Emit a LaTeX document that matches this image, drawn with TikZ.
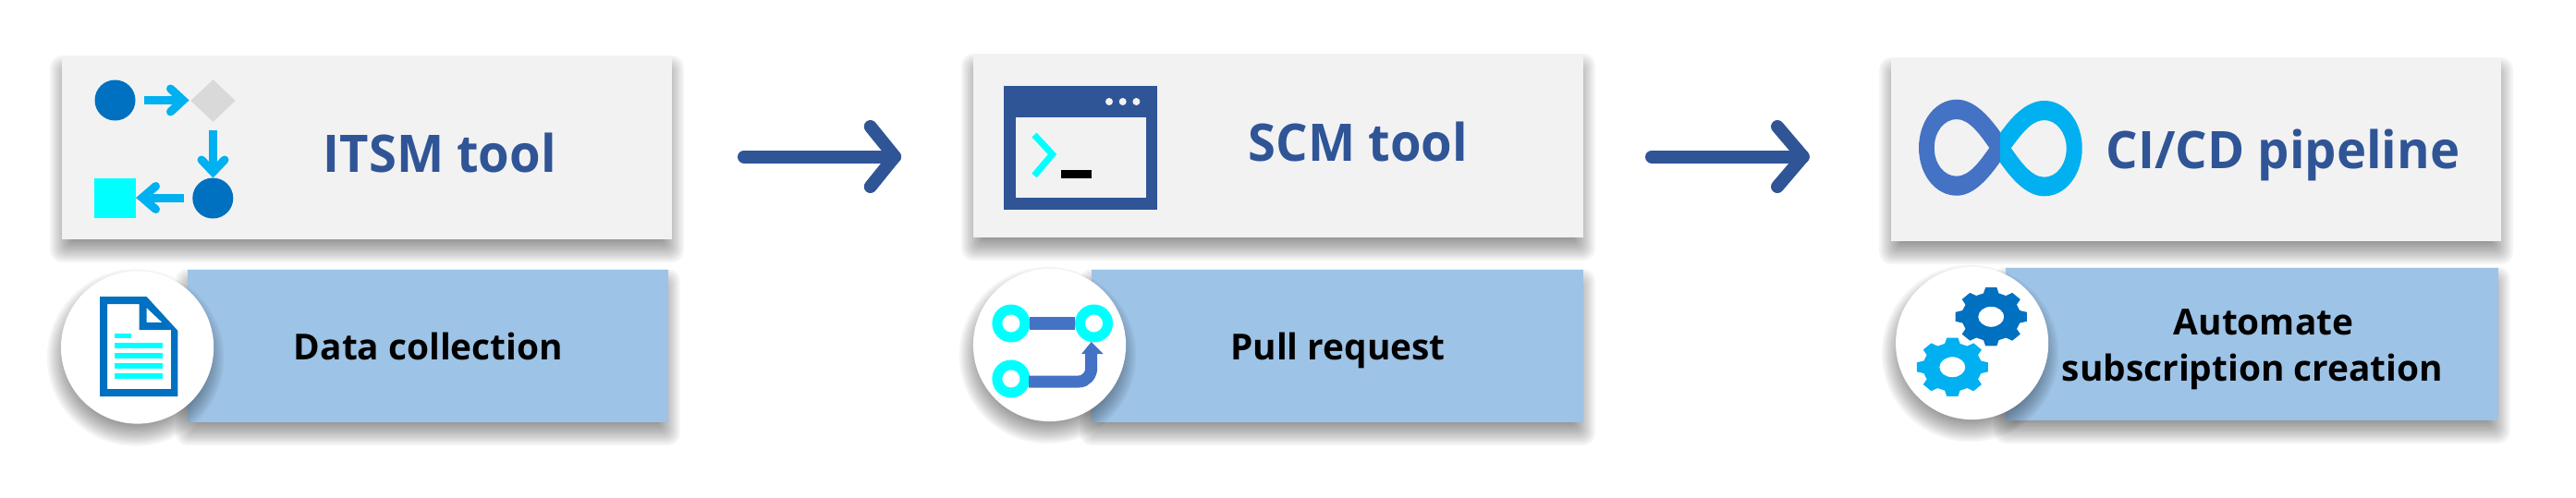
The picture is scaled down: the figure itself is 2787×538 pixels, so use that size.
\documentclass[tikz,border=0pt]{standalone}
\usepackage{fontspec}
\usetikzlibrary{shapes.geometric}
\setmainfont{Open Sans}
\newfontfamily\headfont[FakeStretch=0.97]{Open Sans}
\definecolor{headblue}{HTML}{2F5597}
\definecolor{panelgrey}{HTML}{F2F2F2}
\definecolor{paleblue}{HTML}{9DC3E6}
\definecolor{azure}{HTML}{00B0F0}
\definecolor{deepblue}{HTML}{0070C0}
\definecolor{midblue}{HTML}{4472C4}
\definecolor{aquacol}{HTML}{00FFFF}
\definecolor{diamondgrey}{HTML}{D9D9D9}
\tikzset{
  x=0.5pt,y=-0.5pt,
  panel/.style={rectangle,fill=panelgrey,inner sep=0pt,minimum width=329.9pt,minimum height=99pt},
  bluepanel/.style={rectangle,fill=paleblue,inner sep=0pt,minimum height=82.5pt},
  badge/.style={circle,fill=white,inner sep=0pt,minimum size=82.6pt},
  headtext/.style={font=\headfont\fontsize{28}{32}\selectfont\bfseries,text=headblue,anchor=base,inner sep=0pt},
  labeltext/.style={font=\fontsize{19.4}{25}\selectfont\bfseries,text=black,inner sep=0pt},
  flowarrow/.style={draw=headblue,line width=7pt,line cap=round,line join=round},
  minishaft/.style={draw=azure,line width=4.5pt},
  minihead/.style={draw=azure,line width=4.5pt,line cap=round,line join=miter},
  prbar/.style={draw=midblue,line width=7pt},
  ring/.style={circle,draw=aquacol,line width=5.5pt,fill=white,inner sep=0pt,minimum size=15pt},
}
% soft shadow of a rectangle: centre cx,cy  half sizes hw,hh (px)
\newcommand{\softrect}[4]{%
  \foreach \i in {1,...,12}{%
    \pgfmathsetmacro{\grow}{13-26*(\i-1)/11}%
    \pgfmathsetmacro{\rad}{max(0.5,(\grow+13)*0.25)}%
    \fill[black,opacity=0.042,rounded corners=\rad pt]
      ({#1-#3-\grow},{#2+12-#4-\grow}) rectangle ({#1+#3+\grow},{#2+12+#4+\grow});
  }}
\newcommand{\softdisc}[3]{%
  \foreach \i in {1,...,12}{%
    \pgfmathsetmacro{\grow}{13-26*(\i-1)/11}%
    \fill[black,opacity=0.042] ({#1-2},{#2+11}) circle[radius={(#3+\grow)*0.5pt}];
  }}
\newcommand{\cogshape}[3]{%
  \fill[#3,even odd rule]
    ({#1+39*0.82*cos(-15)},{#2+32*0.82*sin(-15)})
    \foreach \a in {0,45,...,315}{%
      -- ({#1+39*0.82*cos(\a-15)},{#2+32*0.82*sin(\a-15)})
      -- ({#1+39*cos(\a-9)},{#2+32*sin(\a-9)})
      -- ({#1+39*cos(\a+9)},{#2+32*sin(\a+9)})
      -- ({#1+39*0.82*cos(\a+15)},{#2+32*0.82*sin(\a+15)})
    }
    -- cycle
    (#1,#2) ellipse[x radius=7pt,y radius=5.5pt];
}
\begin{document}
\begin{tikzpicture}
\useasboundingbox (0,0) rectangle (2787,538);
\fill[white] (0,0) rectangle (2787,538);

% ---------- column 1
\softrect{397}{160}{329.9}{99}
\node[panel] (itsm) at (397,160) {};
\softrect{462.85}{374.5}{259.85}{82.5}
\node[bluepanel,minimum width=259.85pt] (datap) at (462.85,374.5) {};
\softdisc{148.6}{376}{82.6}
\node[badge] (datab) at (148.6,376) {};
\node[headtext] (itsmt) at (475.7,186) {ITSM tool};
\node[labeltext,anchor=base] (datat) at (463.5,389) {Data collection};
% workflow icon
\node[circle,fill=deepblue,inner sep=0pt,minimum size=22pt] (w1) at (124.5,108.5) {};
\node[diamond,fill=diamondgrey,inner sep=0pt,minimum width=24.3pt,minimum height=23pt] (w2) at (230.5,109) {};
\node[circle,fill=deepblue,inner sep=0pt,minimum size=22pt] (w3) at (230.3,214.5) {};
\node[rectangle,fill=aquacol,inner sep=0pt,minimum width=22.5pt,minimum height=21.5pt] (w4) at (124.5,214.5) {};
\coordinate (w1a) at (156.2,108.5); \coordinate (w1b) at (198,108.5);
\draw[minishaft] (w1a) -- (w1b);
\draw[minihead] (184.5,96) -- (198,108.5) -- (184.5,121);
\coordinate (w2a) at (230.5,141); \coordinate (w2b) at (230.5,186);
\draw[minishaft] (w2a) -- (w2b);
\draw[minihead] (218,173) -- (230.5,186) -- (243,173);
\coordinate (w3a) at (199,214); \coordinate (w3b) at (154,214);
\draw[minishaft] (w3a) -- (w3b);
\draw[minihead] (168.5,201.5) -- (154,214) -- (168.5,226.5);
% document icon
\fill[deepblue,even odd rule] (108,321) -- (158.5,321) -- (192.4,358) -- (192.4,429) -- (108,429) -- cycle
  (116.2,329) -- (150.7,329) -- (150.7,357) -- (185,357) -- (185,421) -- (116.2,421) -- cycle
  (158.5,333) -- (175.4,349) -- (158.5,349) -- cycle;
\fill[aquacol] (124,361) rectangle (142,366);
\foreach \yy in {371,382,393,404}{\fill[aquacol] (124,\yy) rectangle (175.9,\yy+5.5);}

% ---------- arrow 1
\coordinate (a1s) at (805,169.5); \coordinate (a1e) at (968,169.5);
\draw[flowarrow] (a1s) -- (a1e);
\draw[flowarrow] (941.7,137) -- (a1e) -- (941.7,202);

% ---------- column 2
\softrect{1382.9}{158}{329.9}{99}
\node[panel] (scm) at (1382.9,158) {};
\softrect{1447}{374.5}{265.8}{82.5}
\node[bluepanel,minimum width=265.8pt] (pullp) at (1447,374.5) {};
\softdisc{1135.5}{373.5}{82.6}
\node[badge] (pullb) at (1135.5,373.5) {};
\node[headtext] (scmt) at (1469.3,174) {SCM tool};
\node[labeltext,anchor=base] (pullt) at (1447.5,389) {Pull request};
% terminal icon
\fill[headblue] (1086.1,93) rectangle (1251.9,227);
\fill[panelgrey] (1098.5,127) rectangle (1239.5,214);
\foreach \xx in {1200,1214.7,1229.4}{\fill[panelgrey] (\xx,110) circle[radius=2pt];}
\draw[aquacol,line width=3.5pt,line join=miter] (1119,146) -- (1138.5,167) -- (1119,190);
\fill[black] (1148.1,184) rectangle (1181.2,193);
% pull request icon
\node[ring] (r1) at (1093.9,350) {};
\node[ring] (r2) at (1183.5,350) {};
\node[ring] (r3) at (1093.9,410) {};
\draw[prbar] (r1) -- (r2);
\coordinate (r3e) at (1180.7,381);
\draw[prbar,line width=6.5pt] (1113,413) -- (1167,413) .. controls (1175,413) and (1180.7,406) .. (1180.7,398) -- (r3e);
\fill[midblue] (1180.7,370) -- (1193.6,383) -- (1170.1,383) -- cycle;

% ---------- arrow 2
\coordinate (a2s) at (1787,169.5); \coordinate (a2e) at (1950.7,169.5);
\draw[flowarrow] (a2s) -- (a2e);
\draw[flowarrow] (1923,137) -- (a2e) -- (1923,202);

% ---------- column 3
\softrect{2376.1}{162}{329.9}{99}
\node[panel] (cicd) at (2376.1,162) {};
\softrect{2436.4}{372.5}{266.3}{82.5}
\node[bluepanel,minimum width=266.3pt] (autop) at (2436.4,372.5) {};
\softdisc{2133.6}{371.5}{82.6}
\node[badge] (autob) at (2133.6,371.5) {};
\node[headtext] (cicdt) at (2470,182.7) {CI/CD pipeline};
\node[labeltext,align=center] (autot) at (2437,378) {\hspace*{12pt}Automate\\subscription creation};
% infinity icon
\fill[midblue,even odd rule]
  (2164,143) .. controls (2152,126) and (2136,107.7) .. (2117,107.7)
  .. controls (2094,107.7) and (2076,131) .. (2076,160)
  .. controls (2076,189) and (2094,211.7) .. (2117,211.7)
  .. controls (2136,211.7) and (2152,192) .. (2164,175) -- cycle
  (2152.3,160) .. controls (2143,147) and (2131,129) .. (2117,129)
  .. controls (2103,129) and (2092.7,143) .. (2092.7,160)
  .. controls (2092.7,177) and (2103,190.7) .. (2117,190.7)
  .. controls (2131,190.7) and (2143,173) .. (2152.3,160) -- cycle;
\fill[azure,even odd rule]
  (2164,144) .. controls (2176,127) and (2192,109) .. (2211.7,109)
  .. controls (2235,109) and (2252.7,132) .. (2252.7,160.5)
  .. controls (2252.7,189) and (2235,212.3) .. (2211.7,212.3)
  .. controls (2192,212.3) and (2176,193) .. (2164,176) -- cycle
  (2175.7,160.3) .. controls (2185,148) and (2197,130) .. (2211.7,130)
  .. controls (2225,130) and (2235.7,144) .. (2235.7,160.5)
  .. controls (2235.7,178) and (2225,191.7) .. (2211.7,191.7)
  .. controls (2197,191.7) and (2185,173) .. (2175.7,160.3) -- cycle;
% gears
\cogshape{2154.2}{342.8}{deepblue}
\cogshape{2112.3}{397.3}{azure}
\end{tikzpicture}
\end{document}
